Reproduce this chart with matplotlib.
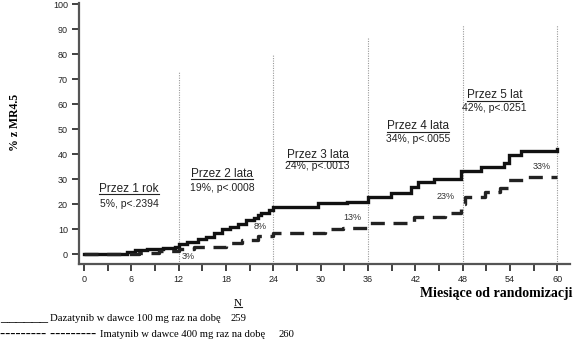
import matplotlib
matplotlib.use("Agg")
import matplotlib.pyplot as plt
from matplotlib.lines import Line2D

# Cumulative MR4.5 rate (%) by month since randomization
months_dasatinib = [0, 5.5, 6.5, 8, 10, 11.5, 12, 13, 14.5, 15.5, 16.5, 17.5, 18.5, 19.5,
                    20.5, 21.5, 22, 22.5, 23.5, 24, 29.7, 33.4, 36, 38.9, 41.4, 42.3,
                    44.3, 47.8, 50.3, 53.2, 53.9, 55.4, 60]
rate_dasatinib = [0, 1, 1.5, 2, 2.5, 3, 4, 5, 6, 7, 8.5, 10, 11, 12,
                  13.5, 14.5, 15.5, 16.5, 17.5, 18.8, 20.3, 21, 23, 24.4, 27, 29,
                  30, 33.2, 35, 36.5, 39.5, 41.2, 42]

months_imatinib = [0, 7, 9.5, 12, 14, 18, 20, 22, 24, 30.5, 32.8, 36, 41.8, 45.8,
                   47.8, 48.3, 50.8, 52.7, 53.8, 55.6, 60]
rate_imatinib = [0, 0.5, 1.2, 2.2, 3, 4.4, 5.6, 7.2, 8.5, 10, 10.4, 12.4, 15, 16.4,
                 20, 22.8, 24.8, 26.4, 29.6, 31, 31]

milestones = [12, 24, 36, 48, 60]
milestone_tops = [73, 80, 87, 91.5, 91.5]

period_titles = ["Przez 1 rok", "Przez 2 lata", "Przez 3 lata", "Przez 4 lata", "Przez 5 lat"]
period_stats = ["5%, p<.2394", "19%, p<.0008", "24%, p<.0013", "34%, p<.0055", "42%, p<.0251"]
period_x = [5.7, 17.5, 29.6, 42.3, 52.0]
period_title_y = [25.0, 31.0, 38.4, 50.0, 62.4]
period_stat_y = [19.0, 25.4, 34.2, 45.0, 57.4]

imatinib_labels = ["3%", "8%", "13%", "23%", "33%"]
imatinib_label_xy = [(13.2, -1.0), (22.3, 11.0), (34.0, 14.5), (45.8, 23.0), (58.0, 35.0)]

x_ticks = list(range(0, 61, 6))
y_ticks = list(range(0, 101, 10))

legend_marks = ["______", "--------- ---------"]
legend_names = ["Dazatynib w dawce 100 mg raz na dobę", "Imatynib w dawce 400 mg raz na dobę"]
legend_n = ["259", "260"]

fig = plt.figure(figsize=(5.75, 3.4), dpi=100)
ax = fig.add_axes([79 / 575, 1 - 264 / 340, (570 - 79) / 575, (264 - 3) / 340])
ax.set_xlim(-0.63, 61.6)
ax.set_ylim(-4, 100.5)

spine_col = "#555555"
for s in ["top", "right"]:
    ax.spines[s].set_visible(False)
for s in ["left", "bottom"]:
    ax.spines[s].set_color(spine_col)
    ax.spines[s].set_linewidth(1.6)

ax.set_xticks(x_ticks)
ax.set_xticks(list(range(3, 61, 6)), minor=True)
ax.set_yticks(y_ticks)
ax.tick_params(axis="both", which="both", direction="out", color="#333333",
               width=1.3, length=5, labelsize=6.5, labelcolor="#222222",
               labelfontfamily="Liberation Sans")
ax.tick_params(axis="x", pad=3)
ax.tick_params(axis="y", pad=3)

for m, top in zip(milestones, milestone_tops):
    ax.plot([m, m], [-4, top], color="#999999", lw=0.8, ls=(0, (1, 1.2)), zorder=1)

ax.step(months_dasatinib, rate_dasatinib, where="post", color="#111111", lw=2.4,
        solid_joinstyle="miter", zorder=3)
ax.step(months_imatinib, rate_imatinib, where="post", color="#222222", lw=2.4,
        ls=(0, (4.2, 2.6)), zorder=3)

title_texts = []
for x, yt, ys, t, s in zip(period_x, period_title_y, period_stat_y, period_titles, period_stats):
    tt = ax.text(x, yt, t, ha="center", va="baseline", fontsize=8.5,
                 family="Liberation Sans", color="#222222")
    title_texts.append(tt)
    ax.text(x, ys, s, ha="center", va="baseline", fontsize=7.5,
            family="Liberation Sans", color="#222222")

for (x, y), lab in zip(imatinib_label_xy, imatinib_labels):
    ax.text(x, y, lab, ha="center", va="center", fontsize=6.5,
            family="Liberation Sans", color="#333333", fontstretch="condensed")

fig.text(0.026, 0.64, "% z MR4.5", rotation=90, ha="center", va="center",
         fontsize=8.5, fontweight="bold", family="Liberation Serif")
fig.text(0.995, 1 - 293 / 340, "Miesiące od randomizacji", ha="right", va="center",
         fontsize=10, fontweight="bold", family="Liberation Serif")

n_txt = fig.text(238 / 575, 1 - 303 / 340, "N", ha="center", va="center",
                 fontsize=8, family="Liberation Serif")

row_base = [321, 337]
mark_size = [11.5, 11]
name_x = [50, 100]
n_x = [238, 286]
for i in range(2):
    yy = 1 - row_base[i] / 340
    fig.text(0.0, yy, legend_marks[i], ha="left", va="baseline",
             fontsize=mark_size[i], family="Liberation Serif")
    fig.text(name_x[i] / 575, yy, legend_names[i], ha="left", va="baseline",
             fontsize=7.7, family="Liberation Serif")
    fig.text(n_x[i] / 575, yy, legend_n[i], ha="center", va="baseline",
             fontsize=7.7, family="Liberation Serif")

# underline the period titles and the N header
fig.canvas.draw()
renderer = fig.canvas.get_renderer()
inv = fig.transFigure.inverted()
for t in title_texts + [n_txt]:
    bb = t.get_window_extent(renderer)
    (x0, y0), (x1, _) = inv.transform([[bb.x0, bb.y0], [bb.x1, bb.y1]])
    fig.add_artist(Line2D([x0, x1], [y0 + 0.5 / 340, y0 + 0.5 / 340],
                          transform=fig.transFigure, color="#222222", lw=0.8))

fig.savefig("out.png", dpi=100)
